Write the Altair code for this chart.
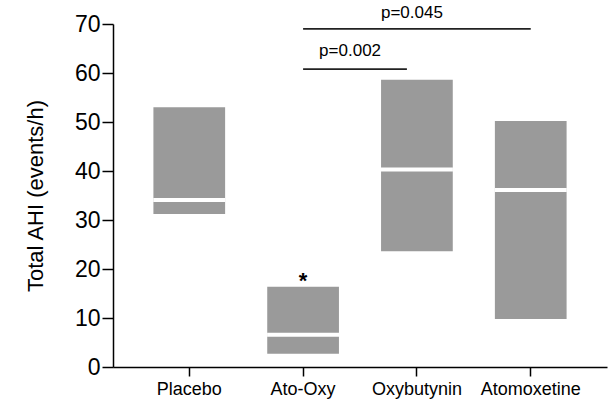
import altair as alt
import pandas as pd

groups = ["Placebo", "Ato-Oxy", "Oxybutynin", "Atomoxetine"]
q1 = [31.2, 2.7, 23.6, 9.8]
median = [34.1, 6.6, 40.3, 36.1]
q3 = [53.0, 16.4, 58.6, 50.2]

# significance annotations
sig_from = ["Ato-Oxy", "Ato-Oxy"]
sig_to = ["Atomoxetine", "Oxybutynin"]
sig_y = [69.0, 60.8]
sig_label = ["p=0.045", "p=0.002"]
sig_text_y = [72.3, 64.4]

star_group = ["Ato-Oxy"]
star_y = [18.4]

FONT = "Liberation Sans"

df = pd.DataFrame({"group": groups, "q1": q1, "median": median, "q3": q3})
sig_df = pd.DataFrame({"a": sig_from, "b": sig_to, "y": sig_y,
                       "label": sig_label, "ty": sig_text_y})
star_df = pd.DataFrame({"group": star_group, "y": star_y, "t": ["*"]})

xscale = alt.Scale(domain=groups, paddingInner=0.37, paddingOuter=0.355)
yscale = alt.Scale(domain=[0, 70], nice=False)

xenc = alt.X("group:N", scale=xscale, sort=groups,
             axis=alt.Axis(title=None, labelAngle=0, labelFontSize=18,
                           labelFont=FONT, labelColor="black", tickSize=9,
                           tickColor="black", tickWidth=1.5, domainColor="black",
                           domainWidth=1.5, labelPadding=4))

boxes = alt.Chart(df).mark_bar(color="#9a9a9a").encode(
    x=xenc,
    y=alt.Y("q1:Q", scale=yscale,
            axis=alt.Axis(title="Total AHI (events/h)", values=[0, 10, 20, 30, 40, 50, 60, 70],
                          grid=False, labelFontSize=23, labelFont=FONT,
                          labelColor="black", tickSize=11, tickColor="black",
                          tickWidth=1.5, domainColor="black", domainWidth=1.5,
                          labelPadding=2, titleFont=FONT, titleFontSize=22,
                          titleFontWeight="normal", titleColor="black",
                          titlePadding=27)),
    y2="q3:Q",
)

med = alt.Chart(df).mark_tick(color="white", thickness=4, size=72, opacity=1).encode(
    x=alt.X("group:N", scale=xscale, sort=groups),
    y=alt.Y("median:Q", scale=yscale),
)

sig_lines = alt.Chart(sig_df).transform_filter(alt.datum.label == "p=0.045").mark_rule(
    color="#222222", strokeWidth=1.8).encode(
    x=alt.X("a:N", scale=xscale, sort=groups),
    x2="b:N",
    y=alt.Y("y:Q", scale=yscale),
)
sig_lines2 = alt.Chart(sig_df).transform_filter(alt.datum.label == "p=0.002").mark_rule(
    color="#222222", strokeWidth=1.8, x2Offset=-10).encode(
    x=alt.X("a:N", scale=xscale, sort=groups),
    x2="b:N",
    y=alt.Y("y:Q", scale=yscale),
)

sig_text1 = alt.Chart(sig_df).transform_filter(alt.datum.label == "p=0.045").mark_text(
    font=FONT, fontSize=17, color="black", dx=-5).encode(
    x=alt.X("oxy:N", scale=xscale, sort=groups),
    y=alt.Y("ty:Q", scale=yscale),
    text="label:N",
).transform_calculate(oxy="'Oxybutynin'")
sig_text2 = alt.Chart(sig_df).transform_filter(alt.datum.label == "p=0.002").mark_text(
    font=FONT, fontSize=17, color="black", dx=47).encode(
    x=alt.X("a:N", scale=xscale, sort=groups),
    y=alt.Y("ty:Q", scale=yscale),
    text="label:N",
)

star = alt.Chart(star_df).mark_text(font=FONT, fontSize=22, fontWeight="bold",
                                    color="black", baseline="middle", dy=4).encode(
    x=alt.X("group:N", scale=xscale, sort=groups),
    y=alt.Y("y:Q", scale=yscale),
    text="t:N",
)

chart = alt.layer(boxes, med, sig_lines, sig_lines2, sig_text1, sig_text2, star).properties(
    width=494, height=343,
    autosize=alt.AutoSizeParams(type="none"),
    padding={"left": 113, "top": 24, "right": 1, "bottom": 37},
    background="white",
).configure_view(stroke=None)

chart.save("out.html", embed_options={"renderer": "svg", "actions": False})
